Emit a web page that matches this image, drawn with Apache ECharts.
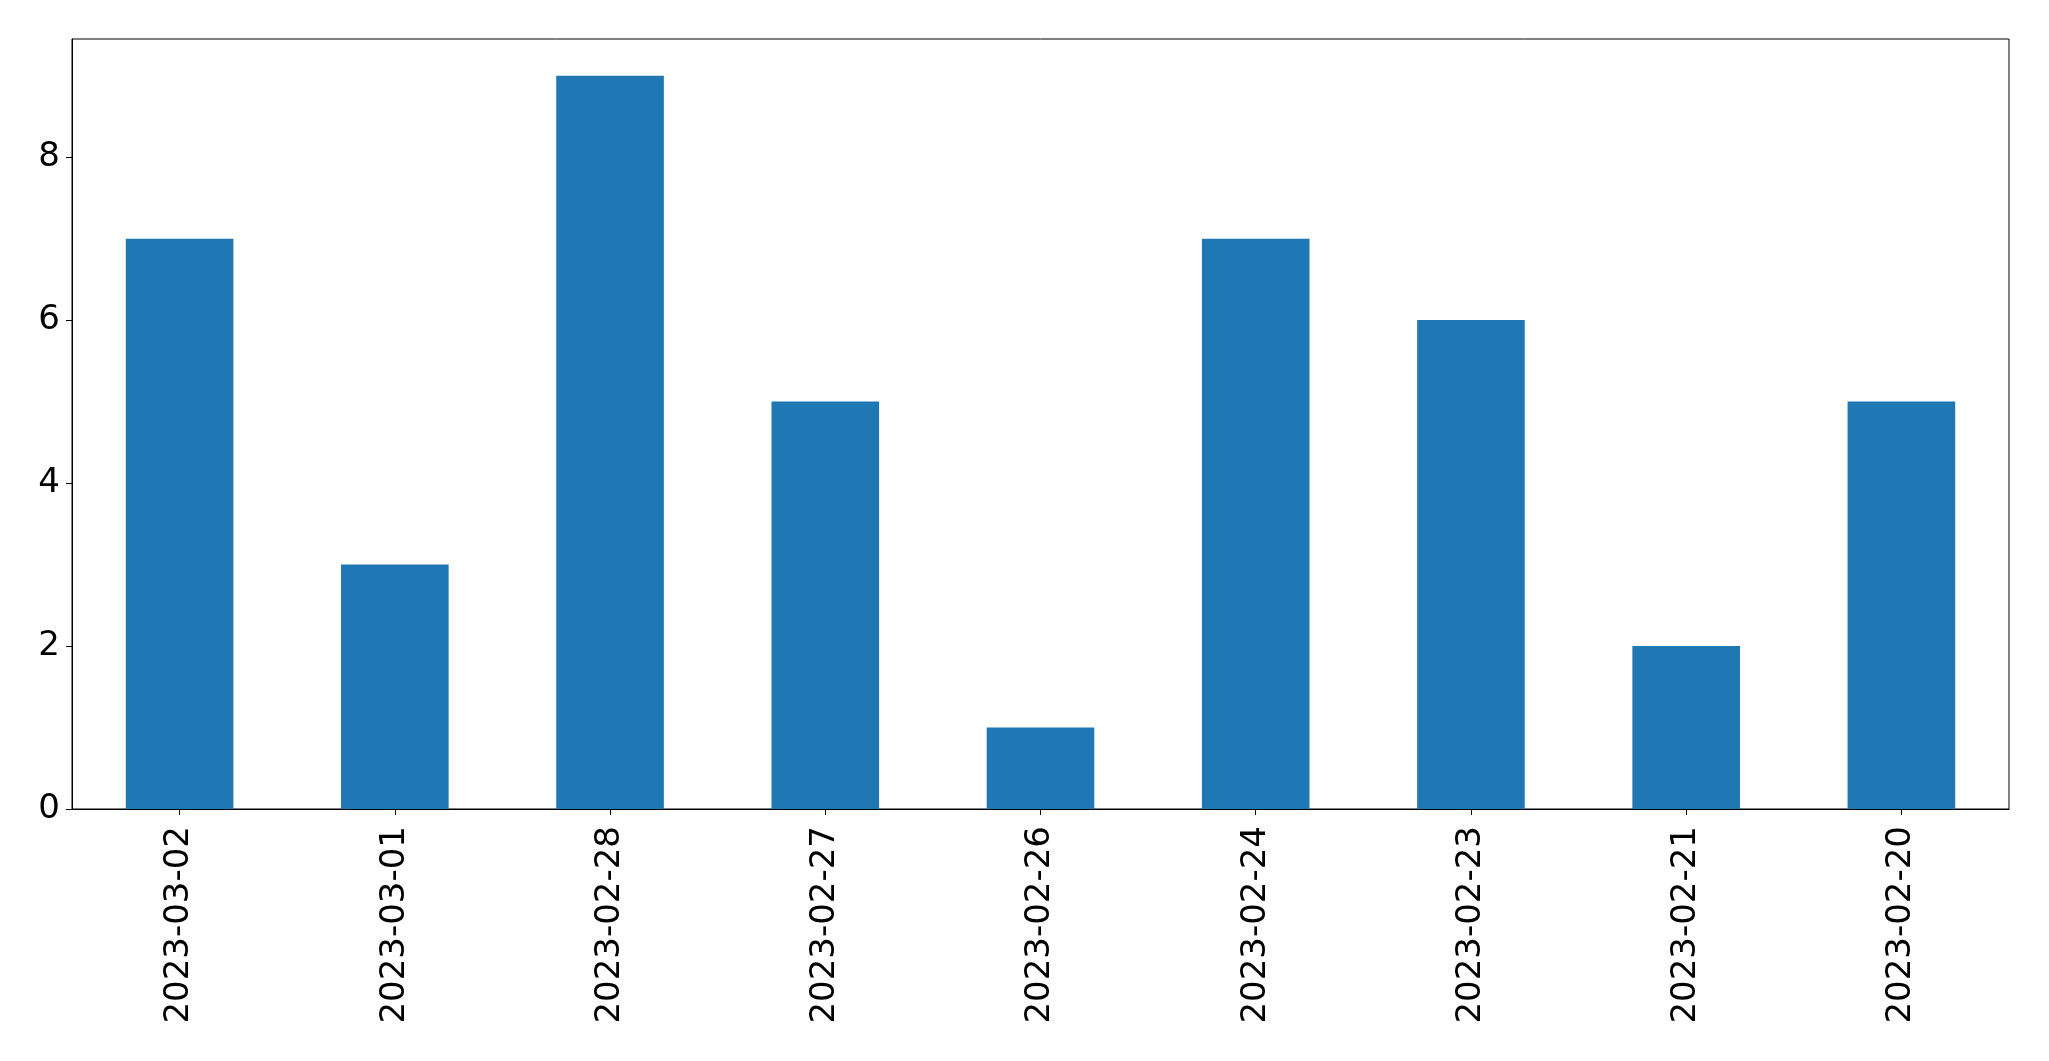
<!DOCTYPE html>
<html>
<head>
<meta charset="utf-8">
<script src="https://cdn.jsdelivr.net/npm/echarts@6/dist/echarts.min.js"></script>
<style>
html,body{margin:0;padding:0;background:#fff;}
#chart{width:2049px;height:1061px;}
</style>
</head>
<body>
<div id="chart"></div>
<script>
const categories = ['2023-03-02','2023-03-01','2023-02-28','2023-02-27','2023-02-26','2023-02-24','2023-02-23','2023-02-21','2023-02-20'];
const values = [7, 3, 9, 5, 1, 7, 6, 2, 5];
const yTicks = [0, 2, 4, 6, 8];

const chart = echarts.init(document.getElementById('chart'));
const font = 'DejaVu Sans';
chart.setOption({
  animation: false,
  backgroundColor: '#fff',
  grid: {
    left: 72, right: 40, top: 39, bottom: 252,
    show: true, borderColor: '#000', borderWidth: 1, backgroundColor: 'transparent'
  },
  xAxis: {
    type: 'category',
    data: categories,
    boundaryGap: true,
    axisLine: { show: true, lineStyle: { color: '#000', width: 1 } },
    axisTick: { show: true, alignWithLabel: true, length: 6, lineStyle: { color: '#000', width: 1 } },
    axisLabel: { rotate: 90, margin: 17, color: '#000', fontSize: 34, fontFamily: font, interval: 0 },
    splitLine: { show: false }
  },
  yAxis: {
    type: 'value',
    min: 0, max: 9.45, interval: 2,
    axisLine: { show: true, lineStyle: { color: '#000', width: 1 } },
    axisTick: { show: true, length: 6, lineStyle: { color: '#000', width: 1 } },
    axisLabel: {
      color: '#000', fontSize: 34, fontFamily: font, margin: 12, showMaxLabel: false,
      formatter: v => yTicks.includes(v) ? String(v) : ''
    },
    splitLine: { show: false }
  },
  series: [{
    type: 'bar',
    data: values,
    barWidth: '50%',
    itemStyle: { color: '#1f77b4' }
  }]
});
</script>
</body>
</html>
